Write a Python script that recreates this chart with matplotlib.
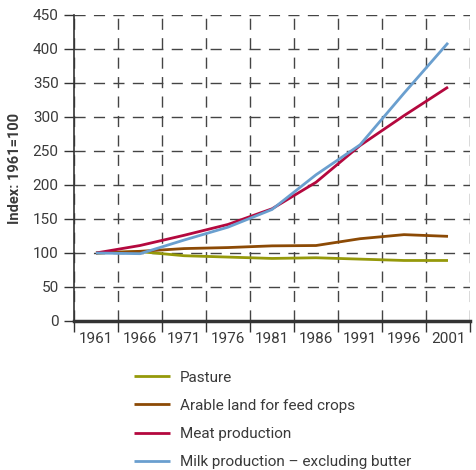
import matplotlib
matplotlib.use("Agg")
import matplotlib.pyplot as plt
import numpy as np

plt.rcParams['font.family'] = ['Roboto', 'DejaVu Sans']

years = ["1961", "1966", "1971", "1976", "1981", "1986", "1991", "1996", "2001"]
pasture = [100, 102, 96, 94, 92, 93, 91, 89, 89]
arable = [100, 102.5, 106.5, 108, 110.5, 111, 121, 127, 124.5]
meat = [100, 111, 126, 142, 165, 204, 258, 302, 344]
milk = [100, 99, 119, 138, 164, 215, 259, 335, 409]

series = [
    ("Pasture", pasture, "#95990a"),
    ("Arable land for feed crops", arable, "#8c4a05"),
    ("Meat production", meat, "#b4083e"),
    ("Milk production \u2013 excluding butter", milk, "#6a9fcf"),
]

W, H = 476, 470
fig = plt.figure(figsize=(W / 100, H / 100), dpi=100)
ax = fig.add_axes([74 / W, 1 - 321 / H, (470 - 74) / W, (321 - 15) / H])

x = np.arange(len(years)) + 0.5
for label, vals, color in series:
    ax.plot(x, vals, color=color, lw=2.0, label=label, solid_capstyle='butt', zorder=3)

txt = "#3a3a3a"
fs = 11
ax.set_xlim(0, len(years))
ax.set_ylim(0, 450)
ax.set_yticks(np.arange(0, 451, 50))
ax.set_xticks(np.arange(0, len(years) + 1))
ax.set_xticklabels([])
ax.set_xticks(x, minor=True)
ax.set_xticklabels(years, minor=True)
ax.tick_params(axis='x', which='major', length=8, width=1, color="#333333", direction='out')
ax.tick_params(axis='x', which='minor', length=0, pad=8, labelsize=fs, labelcolor=txt)
ax.tick_params(axis='y', length=7, width=1, color="#333333", pad=4, labelsize=fs, labelcolor=txt)

ax.grid(True, which='major', color="#444444", lw=1.0, linestyle=(0, (8, 6)), zorder=1)
for s in ['top', 'right']:
    ax.spines[s].set_visible(False)
ax.spines['left'].set_color("#333333")
ax.spines['left'].set_linewidth(1.2)
ax.spines['bottom'].set_color("#333333")
ax.spines['bottom'].set_linewidth(2.5)
ax.set_axisbelow(True)

ax.set_ylabel("Index: 1961=100", fontsize=10.5, fontweight='bold', color=txt, labelpad=8)

fig.legend(loc='upper left', bbox_to_anchor=(120 / W, 1 - 357 / H), frameon=False,
           handlelength=2.4, handletextpad=0.6, labelspacing=0.92,
           fontsize=fs, labelcolor=txt)

fig.savefig("out.png", dpi=100)
